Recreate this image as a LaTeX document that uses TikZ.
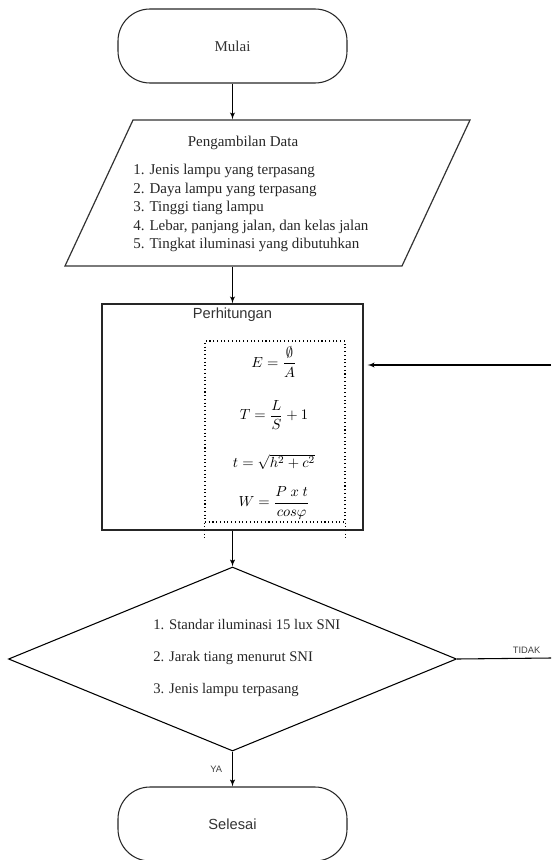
\documentclass[tikz,border=0pt]{standalone}
\usepackage{amsmath,amssymb}
\usepackage{fontspec}
\setmainfont{Liberation Serif}
\setsansfont{Liberation Sans}
\usetikzlibrary{shapes,arrows}

\begin{document}
\begin{tikzpicture}[x=0.75pt,y=-0.75pt,node distance=2cm,
	terminal/.style={rectangle,rounded corners=24pt,draw=black!85,line width=0.8pt,minimum width=171.75pt,minimum height=55.5pt,text=black!80,font=\fontsize{11.25}{13.5}\selectfont},
	io/.style={rectangle,xslant=0.466,transform shape,draw=black!80,line width=0.9pt,minimum width=252.75pt,minimum height=109.5pt,inner sep=0pt},
	block/.style={rectangle,draw=black!85,line width=0.9pt,minimum width=195.75pt,minimum height=169.5pt,inner sep=0pt},
	dotbox/.style={draw,dotted,line width=0.8pt},
	decision/.style={diamond,draw=black,line width=0.8pt,minimum width=336pt,minimum height=138pt,inner sep=1pt},
	txt/.style={text=black!85,inner sep=0pt,align=left,font=\fontsize{11.25}{13.9}\selectfont},
	tag/.style={font=\sffamily\fontsize{7}{8}\selectfont,text=black!75},
	eq/.style={inner sep=0pt,font=\fontsize{11}{13}\selectfont},
	line/.style={draw,line width=0.8pt,-latex'}]
\useasboundingbox (0,0) rectangle (551,860);
\node[terminal] (start) at (232.5,46) {Mulai};
\node[below of=start,io,node distance=110.25pt,xshift=26.25pt] (data) {};
\node[below of=start,block,node distance=278.25pt] (calc) {};
\node[below of=calc,decision,node distance=181.5pt] (test) {\phantom{x}};
\node[below of=test,terminal,node distance=123.75pt,font=\sffamily\fontsize{11}{13}\selectfont] (stop) {Selesai};
% texts inside the shapes
\node[txt] (datatitle) at (243,143) {Pengambilan Data};
\node[txt,anchor=north west] (datalist) at (133,164) {1. Jenis lampu yang terpasang\\2. Daya lampu yang terpasang\\3. Tinggi tiang lampu\\4. Lebar, panjang jalan, dan kelas jalan\\5. Tingkat iluminasi yang dibutuhkan};
\node[anchor=north,font=\sffamily\fontsize{11}{13}\selectfont,text=black!80] (calctitle) at (calc.north) {Perhitungan};
\node[dotbox,minimum width=105pt,minimum height=135.75pt] (eqbox) at (275,431.5) {};
\draw[dotbox] (eqbox.south west) -- ++(0,15);
\draw[dotbox] (eqbox.south east) -- ++(0,15);
\node[eq] (eqE) at (274,362) {$E=\dfrac{\emptyset}{A}$};
\node[eq] (eqT) at (274,415) {$T=\dfrac{L}{S}+1$};
\node[eq] (eqt) at (274,462) {$t=\sqrt{h^2+c^2}$};
\node[eq] (eqW) at (274,503) {$W=\dfrac{P\ x\ t}{cos\varphi}$};
\node[txt,anchor=north west,font=\fontsize{11}{24}\selectfont] (testlist) at (153,619) {1. Standar iluminasi 15 lux SNI\\2. Jarak tiang menurut SNI\\3. Jenis lampu terpasang};
% loose ends at the right margin
\coordinate (tidak) at (551,658);
\coordinate (back) at (551,365);
\path[line] (start) -- (start |- data.north);
\path[line] (data.south -| calc) -- (calc);
\path[line] (calc) -- (test);
\path[line] (test) --node[left=4pt,tag] {YA} (stop);
\draw[line width=0.8pt] (test.east) --node[above,tag,pos=0.74] {TIDAK} (tidak);
\path[line,shorten >=3pt] (back) -- (back -| calc.east);
\end{tikzpicture}
\end{document}
